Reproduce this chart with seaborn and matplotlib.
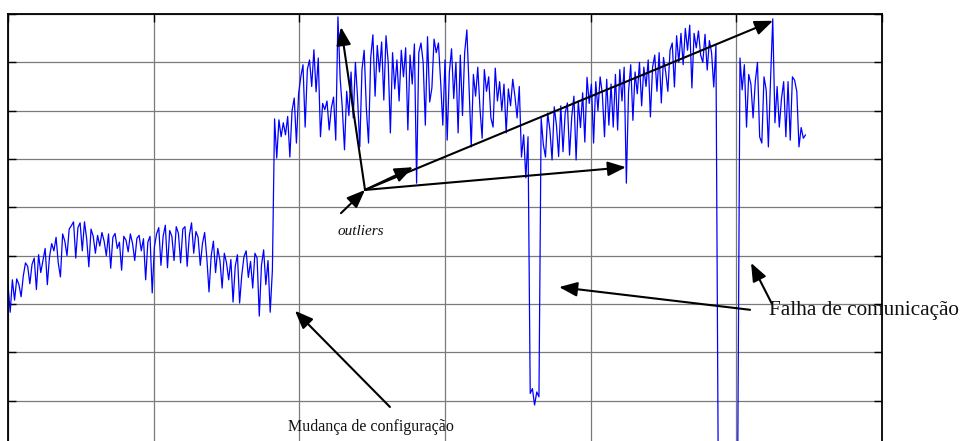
import numpy as np
import pandas as pd
import matplotlib
matplotlib.use("Agg")
import matplotlib.pyplot as plt
import seaborn as sns

# Sample spacing along the horizontal axis
sample_step = 1.5

# Measured series, split by operating period
low_band = [
    34.0, 28.3, 35.0, 30.8, 35.2, 34.0, 31.5, 35.8, 38.5, 37.8,
    34.2, 38.2, 39.5, 33.0, 40.2, 36.5, 39.0, 41.5, 34.0, 39.8,
    42.5, 41.0, 43.8, 38.5, 35.6, 44.5, 43.0, 40.0, 45.5, 46.2,
    47.0, 39.5, 45.8, 46.8, 41.0, 47.0, 43.5, 37.7, 45.5, 44.0,
    40.5, 44.2, 42.0, 44.8, 43.0, 40.0, 44.5, 37.4, 43.8, 44.6,
    41.5, 42.8, 37.0, 44.0, 43.2, 40.8, 44.5, 42.5, 39.0, 43.6,
    44.2, 41.0, 43.5, 35.0, 42.8, 44.0, 32.3, 41.8, 44.5, 45.8,
    38.0, 44.0, 46.3, 37.5, 45.2, 44.0, 39.0, 46.0, 44.6, 38.5,
    45.5, 46.0, 37.8, 44.2, 46.8, 40.5, 45.0, 43.8, 38.0, 42.5,
    44.8, 39.5, 32.5, 40.0, 43.0, 36.5, 41.5, 39.0, 33.3, 40.5,
    38.5, 35.0, 39.2, 30.4, 37.8, 40.2, 30.2, 36.0, 39.8, 41.0,
    35.5, 38.8, 33.3, 40.5, 39.5, 27.5, 38.0, 41.2, 34.0, 39.0,
    28.3, 37.0,
]
high_band = [
    68.3, 60.2, 68.1, 64.6, 67.5, 65.0, 68.8, 60.4, 70.0, 72.6,
    63.3, 73.5, 77.0, 79.5, 66.6, 78.5, 80.5, 75.0, 82.6, 73.9,
    80.9, 64.6, 71.5, 70.2, 72.0, 66.0, 70.6, 72.8, 63.9, 89.4,
    76.8, 70.5, 61.9, 74.0, 69.0, 78.0, 68.5, 80.0, 72.5, 62.5,
    78.5, 82.5, 70.5, 63.3, 81.0, 85.7, 73.0, 83.5, 78.0, 84.2,
    72.2, 85.5, 80.0, 65.4, 82.0, 74.5, 80.5, 72.0, 82.5, 77.0,
    83.0, 66.0, 81.5, 75.5, 83.8, 55.0, 82.0, 84.0, 80.0, 67.0,
    85.3, 71.8, 74.7, 84.8, 82.0, 84.0, 76.0, 67.0, 80.5, 63.9,
    78.0, 82.8, 72.5, 80.0, 65.4, 81.5, 69.0, 82.0, 86.7, 75.0,
    62.5, 77.5, 73.0, 79.0, 70.5, 64.3, 78.5, 74.0, 77.0, 68.5,
    66.6, 78.8, 72.0, 76.0, 70.0, 75.5, 65.4, 74.5, 71.0, 76.5,
    73.0, 68.5, 75.0, 60.4, 65.0, 56.1, 64.6,
]
dropout_a = [11.5, 12.5, 9.1, 11.8, 10.8]
rising_band = [
    68.5, 63.0, 60.4, 69.5, 66.0, 59.8, 70.8, 67.0, 60.5, 71.0,
    61.5, 69.5, 71.6, 60.8, 68.7, 73.0, 59.8, 72.0, 66.5, 73.7,
    63.5, 76.9, 71.5, 75.5, 63.3, 76.0, 70.0, 77.0, 73.5, 64.6,
    76.5, 67.0, 75.5, 66.6, 77.5, 66.0, 78.5, 72.0, 79.0, 55.0,
    74.0, 79.5, 68.0, 78.0, 73.5, 80.0, 71.0, 79.0, 75.0, 80.5,
    68.7, 79.0, 81.5, 74.0, 82.0, 71.6, 81.0, 78.0, 74.0, 82.5,
    84.0, 74.9, 85.5, 80.0, 86.0, 79.5, 87.0, 82.5, 87.7, 74.7,
    86.0, 83.0, 86.5, 81.5, 80.0, 85.8, 78.4, 84.5, 82.0, 74.9,
    83.5,
]
dropout_b = [0.0, 0.0, 0.0, 0.0, 0.0, 0.0, 0.0, 0.0, 0.0, 0.0]
tail_band = [
    80.9, 74.3, 79.5, 66.6, 77.5, 75.5, 68.5, 76.0, 80.0, 64.6,
    63.3, 77.0, 74.3, 62.5, 76.5, 89.0, 67.5, 75.0, 66.6, 72.5,
    76.0, 64.6, 76.0, 63.9, 77.0, 76.3, 74.0, 62.5, 66.5, 64.3,
    65.0,
]

values = np.array(low_band + high_band + dropout_a + rising_band + dropout_b + tail_band)
df = pd.DataFrame({"t": np.arange(len(values)) * sample_step, "v": values})

sns.set_theme(style="whitegrid")
plt.rcParams["font.family"] = ["Liberation Serif", "DejaVu Serif"]

fig = plt.figure(figsize=(9.61, 4.41), dpi=100)
ax = fig.add_axes([8 / 961, -8 / 441, 874 / 961, 435 / 441])

sns.lineplot(data=df, x="t", y="v", ax=ax, color="#0000ff", linewidth=0.9,
             estimator=None, sort=False)

ax.set_xlim(0, 600)
ax.set_ylim(0, 90)
ax.set_xticks(np.arange(0, 601, 100))
ax.set_yticks(np.arange(0, 91, 10))
ax.set_xlabel("")
ax.set_ylabel("")
ax.tick_params(axis="both", which="both", direction="in", length=6, width=1,
               color="black", labelleft=False, labelbottom=False,
               left=True, right=True, top=True, bottom=False)
ax.grid(True, color="#7a7a7a", linewidth=0.9)
for side in ["left", "right", "top", "bottom"]:
    ax.spines[side].set_visible(True)
    ax.spines[side].set_color("black")
    ax.spines[side].set_linewidth(1.3)
ax.set_facecolor("white")

arrow = dict(arrowstyle="-|>,head_length=0.55,head_width=0.22", color="black",
             lw=1.5, shrinkA=0, shrinkB=0, mutation_scale=20)

# Outliers: common origin and four arrows
hub = (245.1, 53.6)
for tip in [(228.6, 87.3), (278.0, 58.3), (424.2, 58.3), (525.2, 88.6)]:
    ax.annotate("", xy=tip, xytext=hub, arrowprops=arrow, annotation_clip=False)
ax.annotate("", xy=hub, xytext=(228.6, 48.8), arrowprops=arrow, annotation_clip=False)
ax.text(242.3, 44.9, "outliers", style="italic", fontsize=11,
        ha="center", va="center", color="#111111")

# Configuration change
ax.annotate("", xy=(197.0, 28.6), xytext=(262.2, 8.7), arrowprops=arrow,
            annotation_clip=False)
ax.text(249.2, 4.6, "Mudança de configuração", fontsize=11.5,
        ha="center", va="center", color="#111111")

# Communication failures
ax.annotate("", xy=(378.3, 33.5), xytext=(509.4, 28.8), arrowprops=arrow,
            annotation_clip=False)
ax.annotate("", xy=(510.1, 38.5), xytext=(524.5, 30.0), arrowprops=arrow,
            annotation_clip=False)
ax.text(522.4, 28.6, "Falha de comunicação", fontsize=15.3,
        ha="left", va="center", color="#111111", clip_on=False)

fig.savefig("out.png", dpi=100, facecolor="white")
